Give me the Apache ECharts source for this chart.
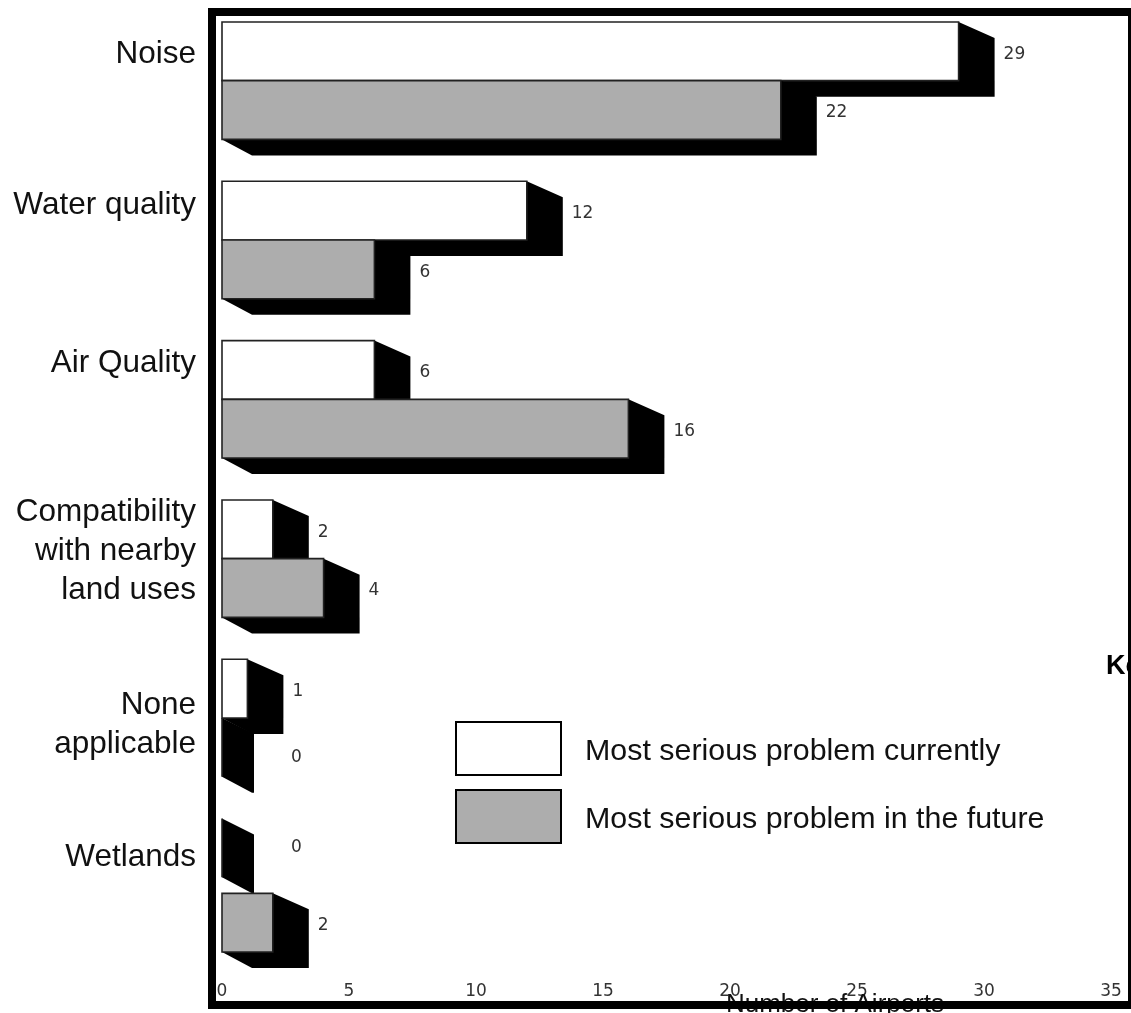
<!DOCTYPE html>
<html>
<head>
<meta charset="utf-8">
<style>html,body{margin:0;padding:0;background:#fff}#c{width:1131px;height:1013px}</style>
<script src="https://cdn.jsdelivr.net/npm/echarts@6/dist/echarts.min.js"></script>
</head>
<body>
<div id="c"></div>
<script>
var categories = ['Noise', 'Water quality', 'Air Quality', 'Compatibility\nwith nearby\nland uses', 'None\napplicable', 'Wetlands'];
var currentValues = [29, 12, 6, 2, 1, 0];
var futureValues = [22, 6, 16, 4, 0, 2];
var xTicks = [0, 35, 5];
var seriesNames = ['Most serious problem currently', 'Most serious problem in the future'];

// layout tweaks of the source picture (pixels)
var catLabelNudge = [-26.6, -35, -36, -7.5, 6.7, -20];
var DEPTH_X = 36, DEPTH_X_ZERO = 32, DEPTH_X_LEFT = 30, DEPTH_Y = 16;
var SANS = '"Liberation Sans", Arial, sans-serif';
var TINY = '17px "DejaVu Sans", sans-serif';

function barRenderer(isFuture) {
  return function (params, api) {
    var v = api.value(0), cat = api.value(1);
    var origin = api.coord([0, cat]);
    var end = api.coord([v, cat]);
    var h = api.size([0, 1])[1] * 0.3685;
    var yTop = isFuture ? origin[1] : origin[1] - h;
    if (isFuture && cat === 5) yTop += DEPTH_Y;   // last bar sits lower in the source
    var yBot = yTop + h, x0 = origin[0], x1 = end[0];
    var dx = v === 0 ? DEPTH_X_ZERO : DEPTH_X;
    var labelY = (yTop + yBot) / 2 + 3;
    if (isFuture && cat === 4) labelY += 7;
    if (!isFuture && cat === 5) labelY -= 3;
    return {
      type: 'group',
      children: [
        { type: 'polygon',
          shape: { points: [[x0, yTop], [x1, yTop], [x1 + dx, yTop + DEPTH_Y], [x1 + dx, yBot + DEPTH_Y], [x0 + DEPTH_X_LEFT, yBot + DEPTH_Y], [x0, yBot]] },
          style: { fill: '#000' } },
        { type: 'rect',
          shape: { x: x0, y: yTop, width: x1 - x0, height: h },
          style: { fill: v === 0 ? '#000' : (isFuture ? '#adadad' : '#fff'), stroke: '#222', lineWidth: 1.6 } },
        { type: 'text',
          style: { text: String(v), x: x1 + (v === 0 ? 69 : 45), y: labelY, font: TINY, fill: '#333', textAlign: 'left', textVerticalAlign: 'middle' } }
      ]
    };
  };
}

function toData(arr) { return arr.map(function (v, i) { return [v, i]; }); }

var chart = echarts.init(document.getElementById('c'), null, { renderer: 'canvas' });
chart.setOption({
  animation: false,
  backgroundColor: '#fff',
  grid: { left: 222, top: 1, width: 889, height: 956 },
  xAxis: {
    type: 'value', min: xTicks[0], max: xTicks[1], interval: xTicks[2],
    axisLine: { show: false }, axisTick: { show: false }, splitLine: { show: false },
    axisLabel: { margin: 26, color: '#333', fontFamily: '"DejaVu Sans", sans-serif', fontSize: 17 }
  },
  yAxis: {
    type: 'category', inverse: true, data: categories,
    axisLine: { show: false }, axisTick: { show: false }, splitLine: { show: false },
    axisLabel: { show: false }
  },
  legend: {
    left: 455, top: 721, padding: 0, orient: 'vertical', itemWidth: 105, itemHeight: 53, itemGap: 13,
    selectedMode: false, icon: 'rect', data: seriesNames,
    formatter: function (n) { return '{t|' + n + '}'; },
    textStyle: { padding: [0, 0, 0, 19], rich: { t: { fontFamily: SANS, fontSize: 30.4, color: '#111', padding: [6, 0, 0, 0] } } }
  },
  series: [
    { type: 'custom', name: seriesNames[0], coordinateSystem: 'cartesian2d', clip: false, z: 2,
      renderItem: barRenderer(false), data: toData(currentValues), encode: { x: 0, y: 1 },
      itemStyle: { color: '#fff', borderColor: '#000', borderWidth: 2.5 } },
    { type: 'custom', name: seriesNames[1], coordinateSystem: 'cartesian2d', clip: false, z: 3,
      renderItem: barRenderer(true), data: toData(futureValues), encode: { x: 0, y: 1 },
      itemStyle: { color: '#adadad', borderColor: '#000', borderWidth: 2.5 } },
    { type: 'custom', name: 'Category labels', coordinateSystem: 'cartesian2d', clip: false, z: 4, silent: true,
      renderItem: function (params, api) {
        var i = api.value(1);
        var p = api.coord([0, i]);
        return { type: 'text', style: {
          text: categories[i], x: p[0] - 26, y: p[1] + catLabelNudge[i],
          font: '31.5px ' + SANS, lineHeight: 39, fill: '#111', textAlign: 'right', textVerticalAlign: 'middle' } };
      },
      data: categories.map(function (c, i) { return [0, i]; }), encode: { x: 0, y: 1 } }
  ],
  graphic: [
    { type: 'text', z: 5, style: { text: 'Number of Airports', x: 835, y: 1005, font: '26px ' + SANS, fill: '#111', textAlign: 'center', textVerticalAlign: 'middle' } },
    { type: 'text', z: 5, style: { text: 'Key', x: 1106, y: 667, font: 'bold 27px ' + SANS, fill: '#000', textAlign: 'left', textVerticalAlign: 'middle' } },
    { type: 'rect', z: 50, shape: { x: 212, y: 12, width: 920, height: 993 }, style: { fill: 'none', stroke: '#000', lineWidth: 8 } }
  ]
});
</script>
</body>
</html>
